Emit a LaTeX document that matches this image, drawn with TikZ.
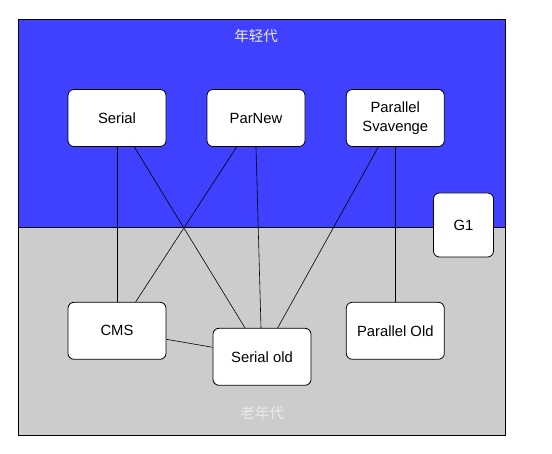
\documentclass[tikz,border=0pt]{standalone}
\usepackage{fontspec}
\setmainfont{Liberation Sans}
\newfontfamily\cjk{Noto Sans CJK SC}
\definecolor{younggen}{RGB}{64,64,255}
\definecolor{oldgen}{RGB}{204,204,204}
\begin{document}
\begin{tikzpicture}[x=1pt,y=-1pt,
  gcbox/.style={draw=black,fill=white,rounded corners=6pt,line width=0.8pt,
    minimum width=98pt,minimum height=57pt,inner sep=0pt,align=center,
    font=\fontsize{14.8}{18.5}\selectfont},
  link/.style={draw=black,line width=0.6pt},
  region/.style={draw=black,line width=0.8pt}]
\useasboundingbox (0,0) rectangle (552,454);
\path[region,fill=younggen] (18.5,19.5) rectangle (505.5,227.5);
\path[region,fill=oldgen] (18.5,227.5) rectangle (505.5,435);
\node[text=white!92!black,font=\cjk\fontsize{14.5}{17}\selectfont] (young) at (256,36) {年轻代};
\node[text=white!92!black,font=\cjk\fontsize{14.5}{17}\selectfont] (old) at (262,413) {老年代};
\node[gcbox] (serial) at (117,118) {Serial};
\node[gcbox] (parnew) at (256,118) {ParNew};
\node[gcbox] (pscav) at (395.3,118) {Parallel\\Svavenge};
\node[gcbox,minimum width=60pt,minimum height=64pt] (g1) at (463.5,225) {G1};
\node[gcbox] (cms) at (117,330.8) {CMS};
\node[gcbox] (sold) at (262,356.8) {Serial old};
\node[gcbox] (pold) at (395.3,330.8) {Parallel Old};
\draw[link] (serial.south) -- (cms.north);
\draw[link] ([xshift=17.3pt]serial.south) -- ([xshift=-17pt]sold.north);
\draw[link] ([xshift=-19.3pt]parnew.south) -- ([xshift=18.7pt]cms.north);
\draw[link] (parnew.south) -- ([xshift=-1pt]sold.north);
\draw[link] ([xshift=-17pt]pscav.south) -- ([xshift=15.7pt]sold.north);
\draw[link] (pscav.south) -- (pold.north);
\draw[link] ([yshift=-8.5pt]cms.east) -- ([yshift=9.5pt]sold.west);
\end{tikzpicture}
\end{document}
